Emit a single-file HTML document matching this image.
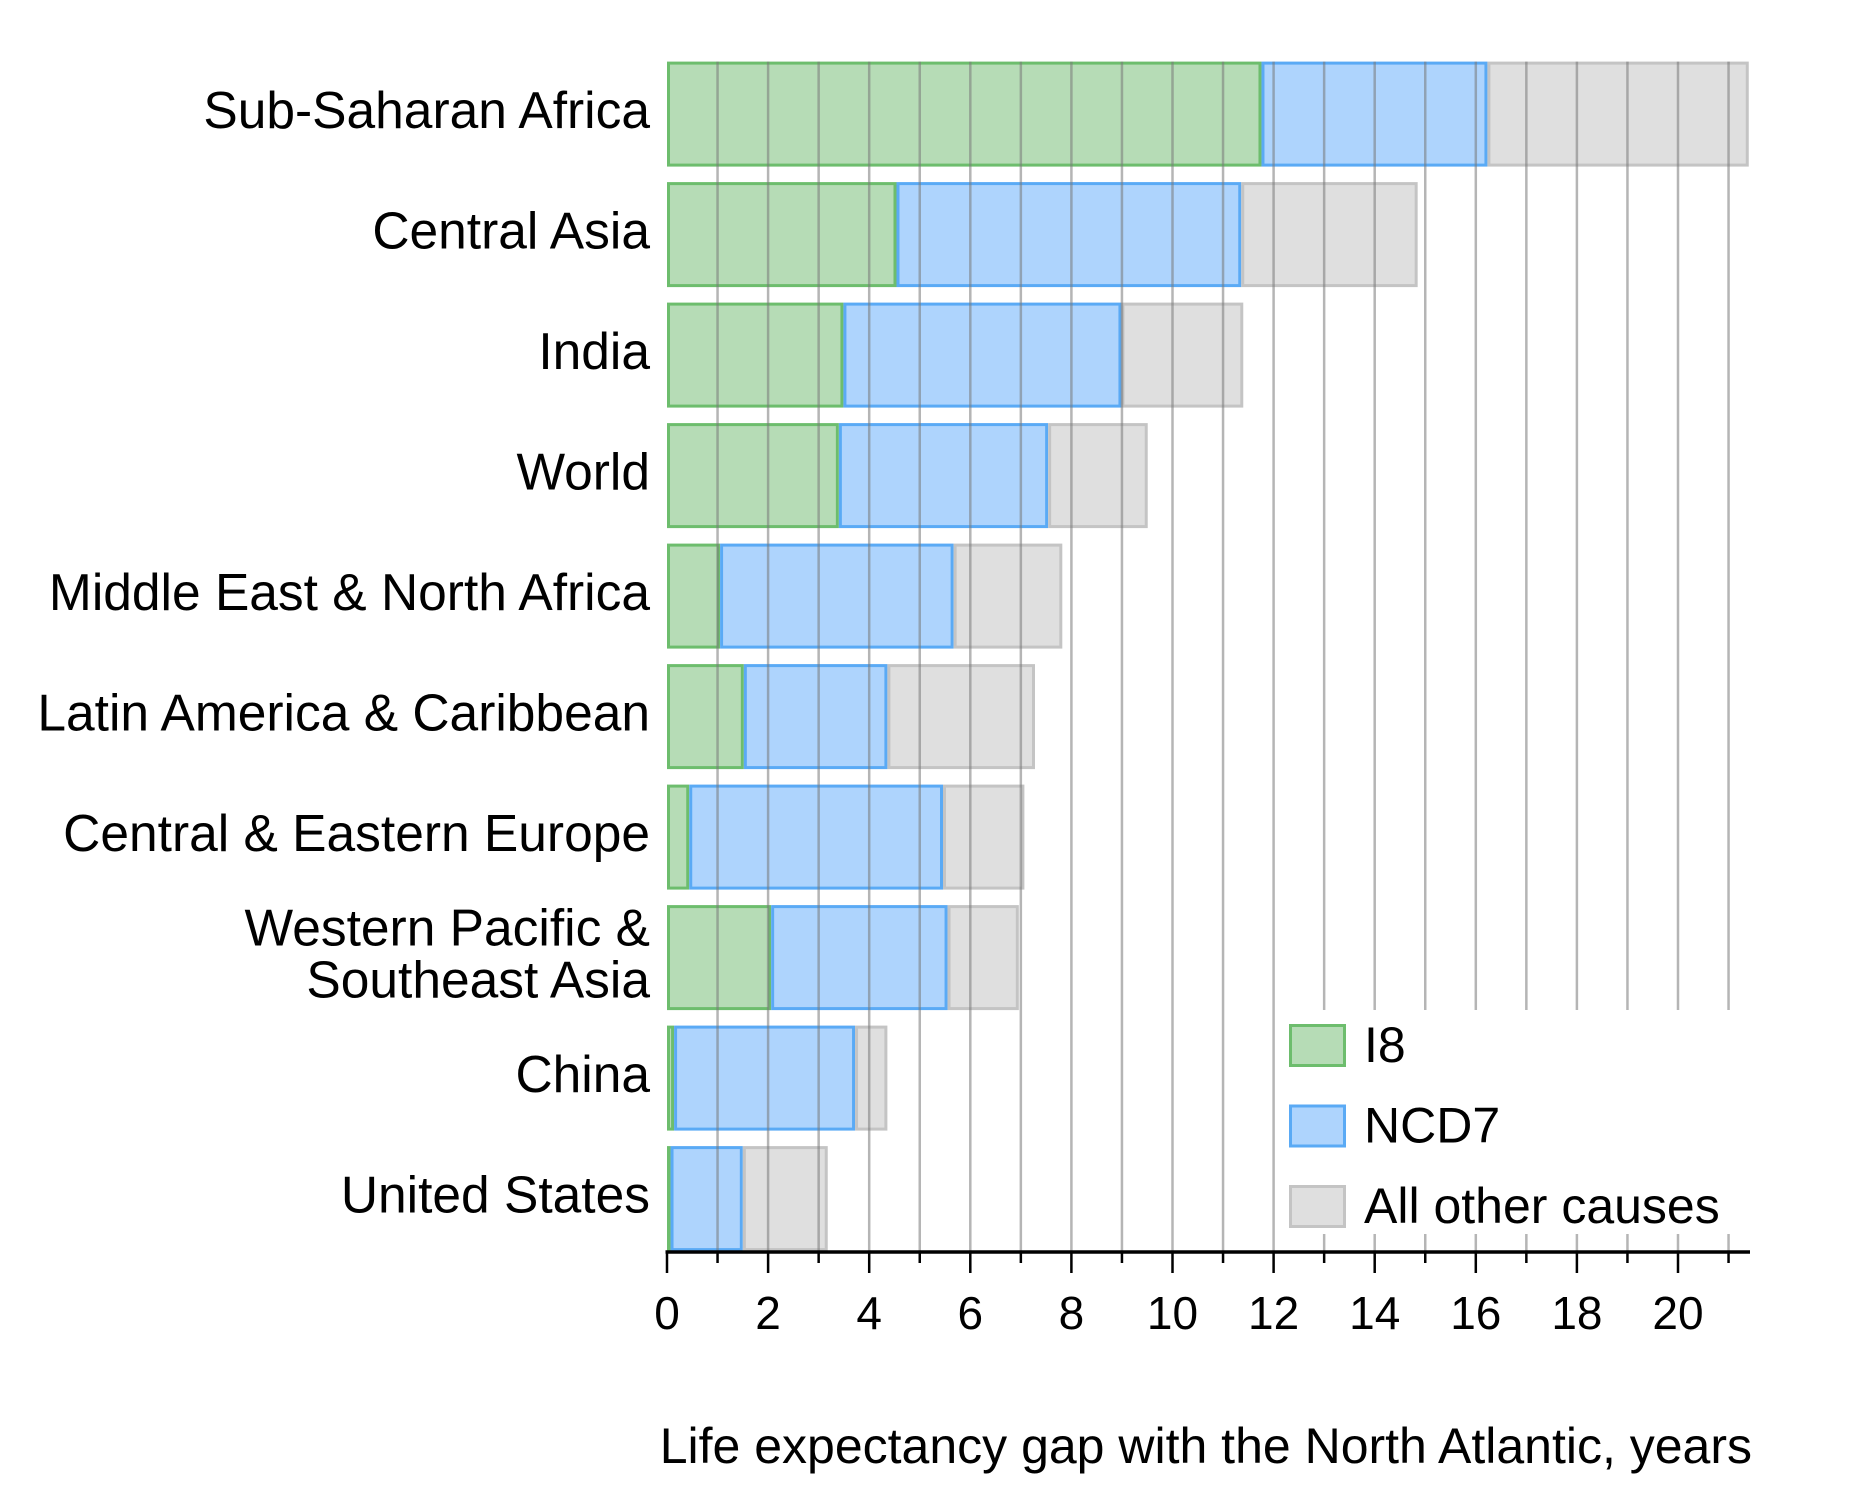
<!DOCTYPE html>
<html><head><meta charset="utf-8"><style>
html,body{margin:0;padding:0;background:#fff}
svg{display:block;font-family:"Liberation Sans",Arial,sans-serif}
</style></head><body>
<svg id="chart" width="1856" height="1500" viewBox="0 0 1856 1500"></svg>
<script>
const categories=["Sub-Saharan Africa","Central Asia","India","World","Middle East & North Africa","Latin America & Caribbean","Central & Eastern Europe","Western Pacific & Southeast Asia","China","United States"];
const i8End=[11.76,4.54,3.49,3.4,1.05,1.52,0.44,2.06,0.14,0.07];
const ncdEnd=[16.23,11.36,8.99,7.54,5.67,4.36,5.46,5.55,3.72,1.5];
const totalEnd=[21.4,14.85,11.4,9.51,7.82,7.28,7.07,6.96,4.36,3.18];
const tickLabels=[0,2,4,6,8,10,12,14,16,18,20];
const NS="http://www.w3.org/2000/svg";
const svg=document.getElementById('chart');
const x0=667,pxPer=50.55,axisY=1252,top0=61.6,pitch=120.5,barH=105;
const X=v=>x0+v*pxPer;
const Y=i=>top0+i*pitch;
function mk(t,a,p){const e=document.createElementNS(NS,t);for(const k in a)e.setAttribute(k,a[k]);(p||svg).appendChild(e);return e;}
const bars=mk('g',{});

const styles=[["#b6dcb6","#6dbd6d","i8"],["#aed4fd","#5aaaf5","ncd7"],["#dfdfdf","#c4c4c4","other"]];
categories.forEach((c,i)=>{
  const segs=[[0,i8End[i]],[i8End[i],ncdEnd[i]],[ncdEnd[i],totalEnd[i]]];
  segs.forEach((s,j)=>{
    const r=mk('rect',{x:X(s[0])+1.5,y:Y(i)+1.5,width:Math.max(0,X(s[1])-X(s[0])-3),height:barH-3,fill:styles[j][0],stroke:styles[j][1],'stroke-width':3},bars);
    
    
  });
  const lines=c==="Western Pacific & Southeast Asia"?["Western Pacific &","Southeast Asia"]:[c];
  const cy=Y(i)+barH/2;
  lines.forEach((l,k)=>{
    const t=mk('text',{x:650,y:cy+14+(k-(lines.length-1)/2)*52,'text-anchor':'end','font-size':51.5,fill:'#000'});
    t.textContent=l;
    
    
  });
});
for(let v=1;v<=21;v++){
  const g=mk('line',{x1:X(v),x2:X(v),y1:top0,y2:axisY,stroke:'rgba(120,120,120,0.55)','stroke-width':2.5});
  
  
}
const lg=mk('g',{});

mk('rect',{x:1275,y:1010,width:470,height:224,fill:'#fff'},lg);
const legNames=["I8","NCD7","All other causes"];
legNames.forEach((n,j)=>{
  const yy=1024+j*80.5;
  const s=mk('rect',{x:1290.5,y:yy+1.5,width:54,height:40,fill:styles[j][0],stroke:styles[j][1],'stroke-width':3},lg);
  
  
  const t=mk('text',{x:1364,y:yy+38,'font-size':50,fill:'#000'},lg);
  t.textContent=n;
  
  
});
const ax=mk('line',{x1:x0-1.5,x2:1750,y1:axisY,y2:axisY,stroke:'#000','stroke-width':3.5});

for(let v=0;v<=21;v++){
  const major=v%2===0;
  const tk=mk('line',{x1:X(v),x2:X(v),y1:axisY,y2:axisY+(major?21:11),stroke:'#000','stroke-width':2.5});
  
}
tickLabels.forEach(v=>{
  const t=mk('text',{x:X(v),y:1329,'text-anchor':'middle','font-size':46,fill:'#000'});
  t.textContent=v;
  
  
});
const tt=mk('text',{x:1752,y:1463,'text-anchor':'end','font-size':50,fill:'#000'});
tt.textContent="Life expectancy gap with the North Atlantic, years";


</script>
</body></html>
